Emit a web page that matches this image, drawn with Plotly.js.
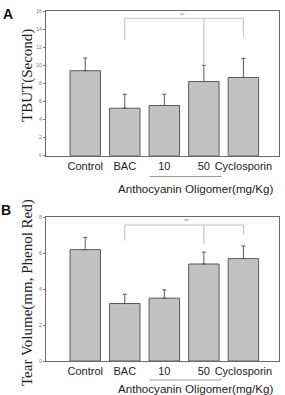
<!DOCTYPE html>
<html>
<head>
<meta charset="utf-8">
<script src="https://cdn.plot.ly/plotly-3.0.1.min.js"></script>
<style>
  html, body { margin: 0; padding: 0; background: #fff; }
  #chart { width: 285px; height: 395px; }
</style>
</head>
<body>
<div id="chart"></div>
<script>
// Treatment groups shared by both panels
const groups = ['Control', 'BAC', '10', '50', 'Cyclosporin'];

// Panel A: tear break-up time (seconds), mean and upper SD
const tbutMean = [9.4, 5.25, 5.55, 8.2, 8.65];
const tbutSD   = [1.4, 1.55, 1.25, 1.8, 2.1];

// Panel B: tear volume (mm, phenol red thread), mean and upper SD
const tearMean = [6.2, 3.2, 3.5, 5.4, 5.7];
const tearSD   = [0.68, 0.52, 0.46, 0.66, 0.7];

const yTicksA = [0, 2, 4, 6, 8, 10, 12, 14, 16];
const yTicksB = [0, 2, 4, 6, 8];

const barFill = '#c2c2c2';
const barLine = '#5a5a5a';
const bracketColor = '#bdbdbd';
const sansFont = 'Liberation Sans, Arial, sans-serif';
const serifFont = 'Liberation Serif, Times New Roman, serif';

function barTrace(vals, sd, xa, ya) {
  return {
    type: 'bar',
    x: groups,
    y: vals,
    xaxis: xa,
    yaxis: ya,
    width: 0.77,
    marker: { color: barFill, line: { color: barLine, width: 1 } },
    error_y: {
      type: 'data', symmetric: false, array: sd,
      arrayminus: sd.map(() => 0),
      color: barLine, thickness: 1, width: 2
    },
    hoverinfo: 'skip'
  };
}

const xCommon = {
  type: 'category',
  range: [-1, 4.9],
  domain: [45.7 / 285, 279 / 285],
  showline: true, mirror: true, linecolor: '#6a6a6a', linewidth: 1,
  ticks: '', showgrid: false, zeroline: false,
  tickfont: { family: sansFont, size: 11, color: '#222' },
  fixedrange: true
};

function yAxis(ticks, domain) {
  return {
    range: [0, ticks[ticks.length - 1]],
    domain: domain,
    tickvals: ticks,
    showline: true, mirror: true, linecolor: '#6a6a6a', linewidth: 1,
    ticks: 'outside', ticklen: 2, tickcolor: '#777',
    tickfont: { family: sansFont, size: 5, color: '#777' },
    showgrid: false, zeroline: false, fixedrange: true
  };
}

// Significance bracket between BAC and the 50 / Cyclosporin groups
function bracket(xa, ya, top, dropBAC, drop50, dropCyc) {
  const line = { color: bracketColor, width: 1 };
  const base = { type: 'line', xref: xa, yref: ya, line: line };
  return [
    Object.assign({}, base, { x0: 1, x1: 4, y0: top, y1: top }),
    Object.assign({}, base, { x0: 1, x1: 1, y0: top, y1: dropBAC }),
    Object.assign({}, base, { x0: 3, x1: 3, y0: top, y1: drop50 }),
    Object.assign({}, base, { x0: 4, x1: 4, y0: top, y1: dropCyc })
  ];
}

// Thin rule under the two dose labels
function doseRule(xa, yPaper) {
  return {
    type: 'line', xref: xa, yref: 'paper',
    x0: 1.63, x1: 3.45, y0: yPaper, y1: yPaper,
    line: { color: '#9a9a9a', width: 1 }
  };
}

const H = 395;
const py = px => 1 - px / H;

// Centered paper-space text label
function label(text, xPx, yPx, font, angle) {
  return {
    text: text, xref: 'paper', yref: 'paper',
    x: xPx / 285, y: py(yPx), xanchor: 'center', yanchor: 'middle',
    textangle: angle || 0, showarrow: false, font: font
  };
}

const data = [
  barTrace(tbutMean, tbutSD, 'x', 'y'),
  barTrace(tearMean, tearSD, 'x2', 'y2')
];

const layout = {
  width: 285, height: 395,
  margin: { l: 0, r: 0, t: 0, b: 0 },
  paper_bgcolor: '#fff', plot_bgcolor: '#fff',
  showlegend: false,
  bargap: 0.2,
  xaxis: Object.assign({}, xCommon, { anchor: 'y' }),
  yaxis: yAxis(yTicksA, [py(155.7), py(11)]),
  xaxis2: Object.assign({}, xCommon, { anchor: 'y2' }),
  yaxis2: Object.assign(yAxis(yTicksB, [py(361), py(217.3)]), { anchor: 'x2' }),
  shapes: [
    ...bracket('x', 'y', 15.2, 12.8, 10.0, 13.1),
    ...bracket('x2', 'y2', 7.57, 6.7, 6.5, 7.05),
    doseRule('x', py(176.5)),
    doseRule('x2', py(380))
  ],
  annotations: [
    label('<b>A</b>', 7.5, 14, { family: sansFont, size: 14, color: '#111' }),
    label('<b>B</b>', 6, 210, { family: sansFont, size: 14, color: '#111' }),
    label('TBUT(Second)', 27, 76, { family: serifFont, size: 15, color: '#222' }, -90),
    label('Tear Volume(mm, Phenol Red)', 27, 293, { family: serifFont, size: 15, color: '#222' }, -90),
    label('Anthocyanin Oligomer(mg/Kg)', 195, 188, { family: sansFont, size: 11.6, color: '#222' }),
    label('Anthocyanin Oligomer(mg/Kg)', 195, 388, { family: sansFont, size: 11.6, color: '#222' }),
    { text: '**', xref: 'x', yref: 'y', x: 2.45, y: 15.6, showarrow: false,
      font: { family: sansFont, size: 6, color: '#888' } },
    { text: '**', xref: 'x2', yref: 'y2', x: 2.55, y: 7.8, showarrow: false,
      font: { family: sansFont, size: 6, color: '#888' } }
  ]
};

Plotly.newPlot('chart', data, layout, { staticPlot: true, displayModeBar: false });
</script>
</body>
</html>
